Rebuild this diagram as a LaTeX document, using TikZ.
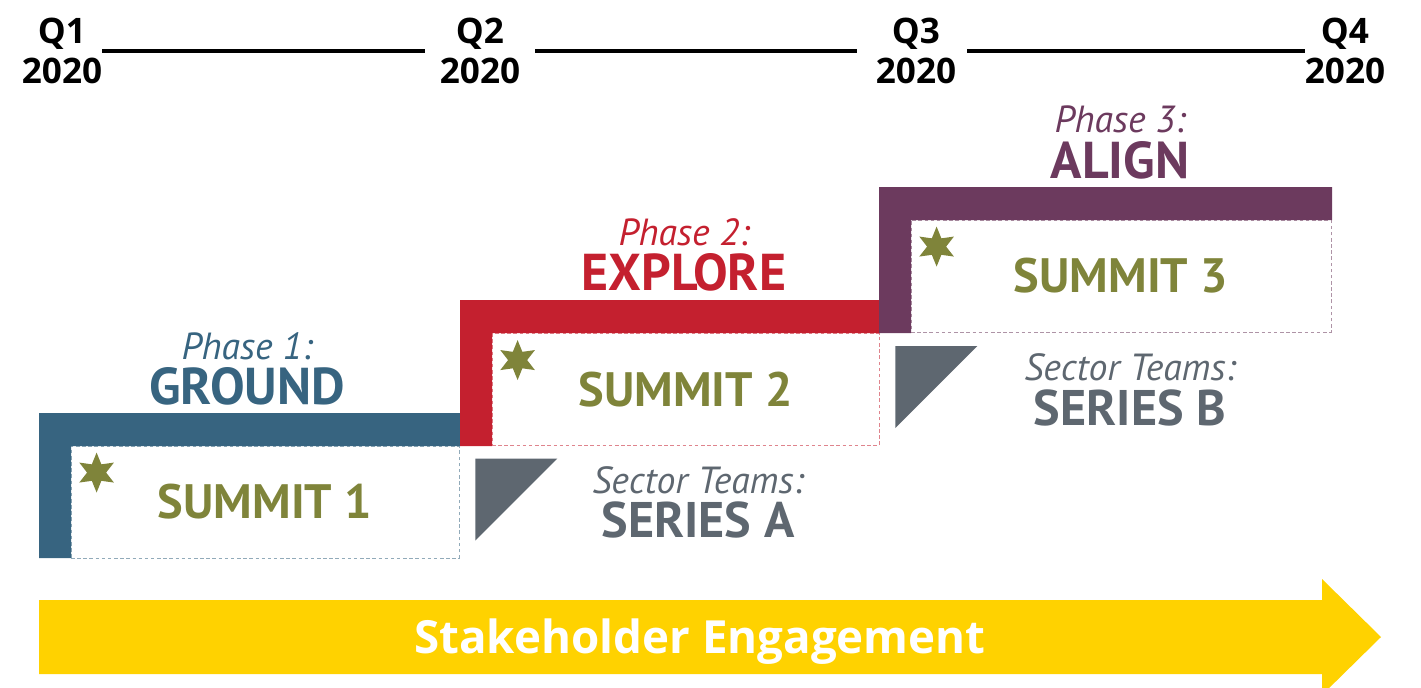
\documentclass[tikz,border=0pt]{standalone}
\usepackage{fontspec}
\setmainfont{PT Sans}
\newfontfamily\qfont{Open Sans}
\usetikzlibrary{shapes.geometric,positioning}
\definecolor{groundblue}{HTML}{376480}
\definecolor{explorered}{HTML}{C4202F}
\definecolor{alignpurple}{HTML}{6C3A5E}
\definecolor{summitgreen}{HTML}{7F843A}
\definecolor{teamgray}{HTML}{5E6770}
\definecolor{engageyellow}{HTML}{FFD200}
\begin{document}
\begin{tikzpicture}[x=0.02cm,y=-0.02cm,
  qlabel/.style={font=\qfont\bfseries\fontsize{20}{22.7}\selectfont, align=center, inner sep=0pt, outer sep=0pt},
  phasename/.style={font=\itshape\fontsize{21.5}{22}\selectfont, inner sep=0pt},
  phasetitle/.style={font=\bfseries\fontsize{29.5}{30}\selectfont, inner sep=0pt},
  summitbox/.style={draw=#1!55, dash pattern=on 2pt off 1.5pt, line width=0.5pt,
    minimum height=2.24cm, font=\bfseries\fontsize{27.5}{30}\selectfont, text=summitgreen, inner sep=0pt},
  sixstar/.style={star, star points=6, star point ratio=2.1, fill=summitgreen, inner sep=0pt, minimum size=0.8cm},
  teamname/.style={font=\itshape\fontsize{21.5}{22}\selectfont, text=teamgray, inner sep=0pt},
  teamtitle/.style={font=\bfseries\fontsize{28.5}{30}\selectfont, text=teamgray, inner sep=0pt}]
  \useasboundingbox (0,0) rectangle (1421,687);
  \clip (0,0) rectangle (1421,687);
  % Quarter timeline
  \node[qlabel] (q1) at (62,51) {Q1\\2020};
  \node[qlabel] (q2) at (480,51) {Q2\\2020};
  \node[qlabel] (q3) at (916,51) {Q3\\2020};
  \node[qlabel] (q4) at (1345,51) {Q4\\2020};
  \foreach \a/\b/\l/\r in {q1/q2/0/-15,q2/q3/15/-19,q3/q4/11/0}
    \draw[line width=2.3pt] ([xshift=\l*0.02cm]\a.east)--([xshift=\r*0.02cm]\b.west);
  % Summit boxes
  \node[summitbox=groundblue, minimum width=7.76cm] (s1) at (265,502) {SUMMIT 1};
  \node[summitbox=explorered, minimum width=7.74cm] (s2) at (685.5,389.5) {SUMMIT 2};
  \node[summitbox=alignpurple, minimum width=8.4cm] (s3) at (1121,276) {SUMMIT 3};
  \foreach \s in {s1,s2,s3} \node[sixstar] (\s star) at ([shift={(26,27)}]\s.north west) {};
  % Phase L-bars
  \fill[groundblue] (39,413)--(460,413)--(460,446)--(71,446)--(71,558)--(39,558)--cycle;
  \fill[explorered] (460,300)--(880,300)--(880,333)--(492,333)--(492,446)--(460,446)--cycle;
  \fill[alignpurple] (879,187)--(1332,187)--(1332,220)--(911,220)--(911,333)--(879,333)--cycle;
  \node[phasename, text=groundblue] (p1) at (247,346) {Phase 1:};
  \node[phasetitle, text=groundblue] (t1) at (247,386) {GROUND};
  \node[phasename, text=explorered] (p2) at (684,232) {Phase 2:};
  \node[phasetitle, text=explorered] (t2) at (684,272) {EXPLORE};
  \node[phasename, text=alignpurple] (p3) at (1120,119) {Phase 3:};
  \node[phasetitle, text=alignpurple] (t3) at (1120,160) {ALIGN};
  % Sector team series
  \foreach \s in {s1,s2} \fill[teamgray] ([shift={(16,13)}]\s.north east) -- ++(82,0) -- ++(-82,82) -- cycle;
  \node[teamname] (na) at (698,480) {Sector Teams:};
  \node[teamtitle] (sa) at (698,520) {SERIES A};
  \node[teamname] (nb) at (1130,367) {Sector Teams:};
  \node[teamtitle] (sb) at (1130,408) {SERIES B};
  % Engagement arrow
  \fill[engageyellow] (39,600)--(1322,600)--(1322,579)--(1381,637)--(1322,695)--(1322,674)--(39,674)--cycle;
  \node[font=\qfont\bfseries\fontsize{26}{30}\selectfont, text=white, inner sep=0pt, anchor=base] (eng) at (700,653) {Stakeholder Engagement};
\end{tikzpicture}
\end{document}
